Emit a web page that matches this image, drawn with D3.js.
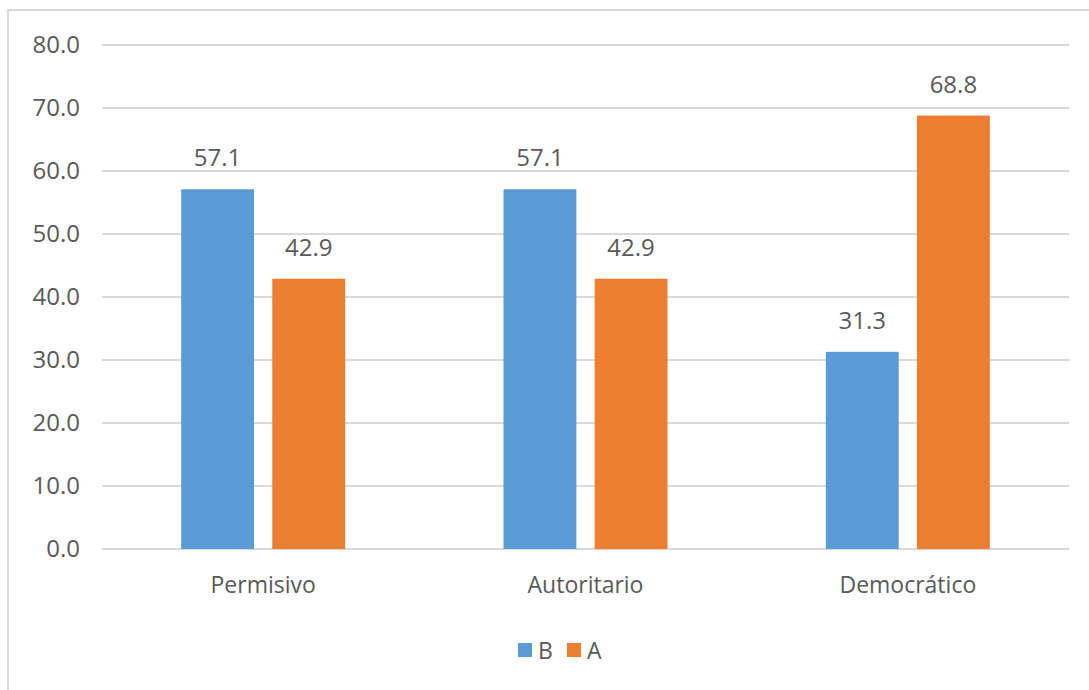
<!DOCTYPE html>
<html>
<head>
<meta charset="utf-8">
<script src="https://cdn.jsdelivr.net/npm/d3@7"></script>
<style>
  body { margin: 0; background: #fff; }
  text { font-family: "Open Sans", sans-serif; fill: #595959; }
</style>
</head>
<body>
<svg id="chart" width="1089" height="690"></svg>
<script>
const categories = ["Permisivo", "Autoritario", "Democrático"];
const seriesNames = ["B", "A"];
const valuesB = [57.1, 57.1, 31.3];
const valuesA = [42.9, 42.9, 68.8];
const yTicks = [0, 10, 20, 30, 40, 50, 60, 70, 80];
const colors = { B: "#5B9BD5", A: "#ED7D31" };

const rows = categories.map((c, i) => ({ category: c, B: valuesB[i], A: valuesA[i] }));

const svg = d3.select("#chart");

// outer chart border
svg.append("rect")
  .attr("x", 8).attr("y", 10)
  .attr("width", 1100).attr("height", 700)
  .attr("fill", "none")
  .attr("stroke", "#D9D9D9")
  .attr("stroke-width", 2);

const x0 = d3.scaleBand()
  .domain(categories)
  .range([102, 1069])
  .padding(0);

const groupW = 164;
const x1 = d3.scaleBand()
  .domain(seriesNames)
  .range([(x0.bandwidth() - groupW) / 2, (x0.bandwidth() + groupW) / 2])
  .paddingInner(0.2);

const y = d3.scaleLinear()
  .domain([0, 80])
  .range([549, 45]);

// gridlines
svg.append("g")
  .selectAll("line")
  .data(yTicks)
  .enter()
  .append("line")
  .attr("x1", 102).attr("x2", 1069)
  .attr("y1", d => y(d)).attr("y2", d => y(d))
  .attr("stroke", "#D9D9D9")
  .attr("stroke-width", 2);

// Y axis labels
const yAxis = svg.append("g")
  .attr("transform", "translate(80,0)")
  .call(d3.axisLeft(y).tickValues(yTicks).tickFormat(d3.format(".1f")).tickSize(0).tickPadding(0));
yAxis.select(".domain").remove();
yAxis.selectAll("text")
  .attr("font-size", 24)
  .attr("fill", "#595959")
  .attr("font-family", "Open Sans, sans-serif");

// X axis labels
const xAxis = svg.append("g")
  .attr("transform", "translate(0,549)")
  .call(d3.axisBottom(x0).tickSize(0).tickPadding(28));
xAxis.select(".domain").remove();
xAxis.selectAll("text")
  .attr("font-size", 23)
  .attr("fill", "#595959")
  .attr("font-family", "Open Sans, sans-serif");

// Bars
const groups = svg.append("g")
  .selectAll("g")
  .data(rows)
  .enter()
  .append("g")
  .attr("transform", d => `translate(${x0(d.category)},0)`);

groups.selectAll("rect")
  .data(d => seriesNames.map(s => ({ key: s, value: d[s] })))
  .enter()
  .append("rect")
  .attr("x", d => x1(d.key))
  .attr("y", d => y(d.value))
  .attr("width", x1.bandwidth())
  .attr("height", d => y(0) - y(d.value))
  .attr("fill", d => colors[d.key]);

// Value labels
groups.selectAll("text.val")
  .data(d => seriesNames.map(s => ({ key: s, value: d[s] })))
  .enter()
  .append("text")
  .attr("class", "val")
  .attr("x", d => x1(d.key) + x1.bandwidth() / 2)
  .attr("y", d => y(d.value) - 23)
  .attr("text-anchor", "middle")
  .attr("font-size", 24)
  .text(d => d3.format(".1f")(d.value));

// Legend
const legend = svg.append("g");
const legendX = [518, 567];
seriesNames.forEach((s, i) => {
  legend.append("rect")
    .attr("x", legendX[i]).attr("y", 643)
    .attr("width", 14).attr("height", 14)
    .attr("fill", colors[s]);
  legend.append("text")
    .attr("x", legendX[i] + 20).attr("y", 659)
    .attr("font-size", 23)
    .text(s);
});
</script>
</body>
</html>
